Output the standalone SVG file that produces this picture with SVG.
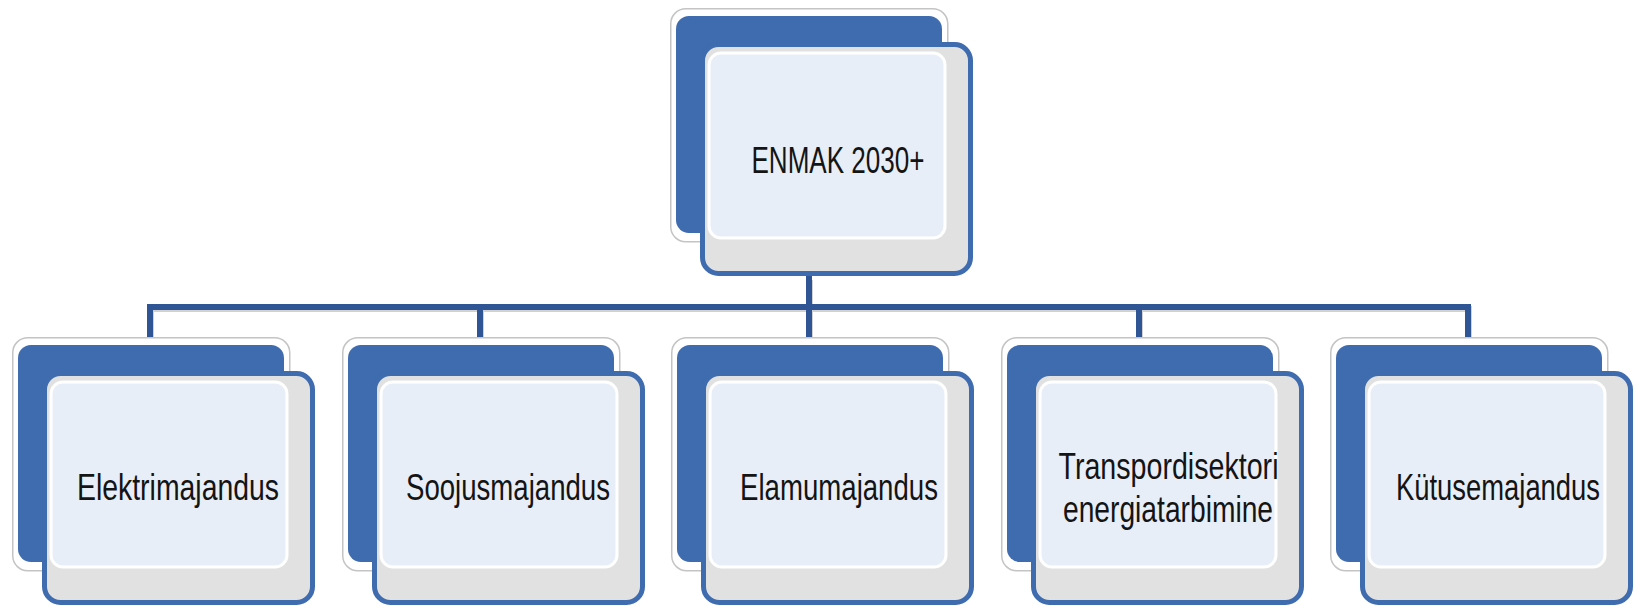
<svg xmlns="http://www.w3.org/2000/svg" width="1636" height="606" viewBox="0 0 1636 606">
<style>
.outer{fill:#ffffff;stroke:#c4c4c4;stroke-width:1.5}
.back{fill:#3f6baf}
.front{fill:#e1e1e1;stroke:#3f6baf;stroke-width:5}
.light{fill:#e8eef7;stroke:#ffffff;stroke-width:3}
.lbl{font-family:"Liberation Sans",Arial,sans-serif;font-size:36px;fill:#141414;text-anchor:middle}
.conn{fill:none;stroke:#2f5595;stroke-width:6;stroke-linejoin:miter;stroke-linecap:butt}
.shadow{fill:none;stroke:#9a9a9a;stroke-width:6;opacity:0.45}
</style>
<defs>
<g id="card">
<rect class="outer" x="0.75" y="0.75" width="277" height="233" rx="15"/>
<rect class="back" x="6" y="8" width="266" height="217" rx="13"/>
<rect class="front" x="32.5" y="36.5" width="268" height="229" rx="16"/>
<rect class="light" x="39" y="45" width="236" height="185" rx="12"/>
</g>
</defs>
<g id="connectors">
<path class="shadow" transform="translate(1,2)" d="M150,337 V307 H1468 V337 M480,307 V337 M1139,307 V337 M809,278 V337"/>
<path class="conn" d="M150,337 V307 H1468 V337 M480,307 V337 M1139,307 V337 M809,240 V337"/>
</g>
<g id="node-enmak" transform="translate(670,8)">
<use href="#card"/>
<text class="lbl" x="168" y="165" textLength="173" lengthAdjust="spacingAndGlyphs">ENMAK 2030+</text>
</g>
<g id="node-elektri" transform="translate(12,337)">
<use href="#card"/>
<text class="lbl" x="166" y="163" textLength="202" lengthAdjust="spacingAndGlyphs">Elektrimajandus</text>
</g>
<g id="node-soojus" transform="translate(342,337)">
<use href="#card"/>
<text class="lbl" x="166" y="163" textLength="204" lengthAdjust="spacingAndGlyphs">Soojusmajandus</text>
</g>
<g id="node-elamu" transform="translate(671,337)">
<use href="#card"/>
<text class="lbl" x="168" y="163" textLength="198" lengthAdjust="spacingAndGlyphs">Elamumajandus</text>
</g>
<g id="node-transport" transform="translate(1001,337)">
<use href="#card"/>
<text class="lbl" x="167.5" y="142" textLength="220" lengthAdjust="spacingAndGlyphs">Transpordisektori</text>
<text class="lbl" x="167" y="185" textLength="210" lengthAdjust="spacingAndGlyphs">energiatarbimine</text>
</g>
<g id="node-kytus" transform="translate(1330,337)">
<use href="#card"/>
<text class="lbl" x="168" y="163" textLength="204" lengthAdjust="spacingAndGlyphs">Kütusemajandus</text>
</g>
</svg>
